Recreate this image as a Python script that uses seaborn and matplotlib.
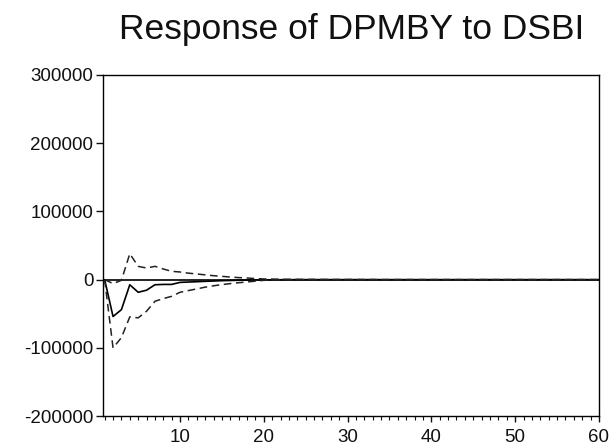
import matplotlib
matplotlib.use('Agg')
import matplotlib.pyplot as plt
import seaborn as sns
import pandas as pd
from matplotlib.ticker import MultipleLocator

# Impulse response data, periods 1..60
periods = list(range(1, 61))

response = [0, -54000, -44000, -7500, -18500, -15500, -7500, -7000, -7000, -4000,
            -3500, -3000, -2500, -2000, -1500, -1200, -900, -600, -400, -300,
            -200, -100, -50, 0, 0, 0, 0, 0, 0, 0,
            0, 0, 0, 0, 0, 0, 0, 0, 0, 0,
            0, 0, 0, 0, 0, 0, 0, 0, 0, 0,
            0, 0, 0, 0, 0, 0, 0, 0, 0, 0]

upper = [0, -5800, -1000, 38000, 19500, 17000, 19500, 15600, 12200, 11200,
         9500, 8300, 7000, 5800, 4800, 3800, 3000, 2400, 1600, 1000,
         800, 600, 500, 400, 300, 300, 200, 200, 150, 150,
         100, 100, 100, 0, 0, 0, 0, 0, 0, 0,
         0, 0, 0, 0, 0, 0, 0, 0, 0, 0,
         0, 0, 0, 0, 0, 0, 0, 0, 0, 0]

lower = [0, -100000, -85000, -54500, -56000, -46300, -31700, -27800, -24400, -18500,
         -16000, -13600, -11000, -9000, -7300, -5800, -4500, -3400, -2200, -1000,
         -600, -300, -200, -100, 0, 0, 0, 0, 0, 0,
         0, 0, 0, 0, 0, 0, 0, 0, 0, 0,
         0, 0, 0, 0, 0, 0, 0, 0, 0, 0,
         0, 0, 0, 0, 0, 0, 0, 0, 0, 0]

yticks = [-200000, -100000, 0, 100000, 200000, 300000]
xticks = [10, 20, 30, 40, 50, 60]
title = 'Response of DPMBY to DSBI'

df = pd.DataFrame({'period': periods, 'response': response,
                   'upper': upper, 'lower': lower})

sns.set_style('white')
plt.rcParams['font.family'] = ['Liberation Sans', 'DejaVu Sans']

fig = plt.figure(figsize=(6.13, 4.46), dpi=100)
ax = fig.add_axes([0.168, 0.067, 0.809, 0.765])

ax.axhline(0, color='black', linewidth=1.2)
sns.lineplot(data=df, x='period', y='response', ax=ax, color='black', linewidth=1.2)
sns.lineplot(data=df, x='period', y='upper', ax=ax, color='#222222', linewidth=1.1,
             linestyle=(0, (5, 3)))
sns.lineplot(data=df, x='period', y='lower', ax=ax, color='#222222', linewidth=1.1,
             linestyle=(0, (5, 3)))

ax.set_xlim(0.8, 60)
ax.set_ylim(-200000, 300000)
ax.set_yticks(yticks)
ax.set_yticklabels([str(v) for v in yticks])
ax.xaxis.set_minor_locator(MultipleLocator(1))
ax.set_xticks(xticks)
ax.set_xticklabels([str(v) for v in xticks])
ax.set_xlabel('')
ax.set_ylabel('')

for s in ax.spines.values():
    s.set_color('black')
    s.set_linewidth(1.0)

ax.tick_params(axis='y', which='major', direction='out', length=5, width=1,
               labelsize=13.5, pad=2, left=True, colors='#111111')
ax.tick_params(axis='x', which='major', direction='out', length=4, width=1,
               labelsize=13.5, pad=5, bottom=True, colors='#111111')
ax.tick_params(axis='x', which='minor', direction='out', length=3, width=0.8,
               bottom=True, colors='#111111')

fig.text(0.573, 0.913, title, ha='center', va='baseline', fontsize=25.5,
         color='#111111')

plt.savefig('out.png', dpi=100)
plt.close()
